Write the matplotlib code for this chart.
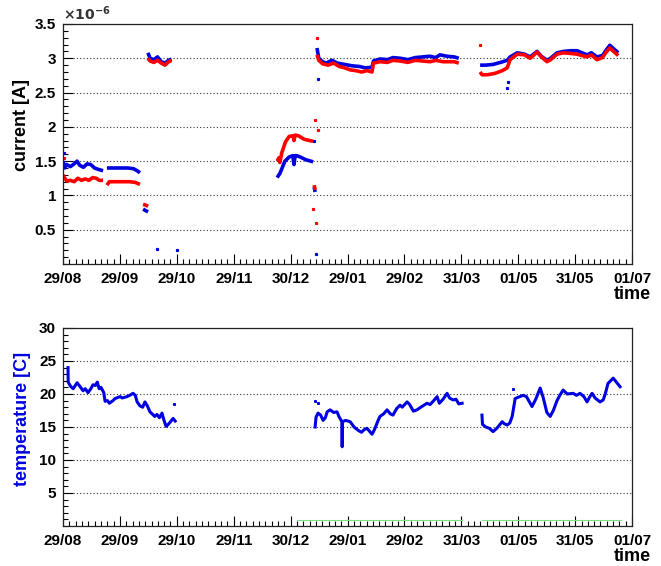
import matplotlib
matplotlib.use("Agg")
import matplotlib.pyplot as plt
import numpy as np
from matplotlib.ticker import FixedLocator, MultipleLocator, NullFormatter

plt.rcParams['font.family'] = ['Liberation Sans', 'DejaVu Sans']
plt.rcParams['font.weight'] = 'bold'

nan = np.nan

# days since 29/08, current in units of 1e-6 A
blue_day = [0, 1, 2, 4, 6, 7.6, 9, 11, 13, 15, 17, 19, 21.6, nan,
            23.7, 27, 31, 35, 38, 40, 41.5, nan,
            43.2, 44.5, 45.9, nan,
            45.8, 47, 49, 51, 53, 55, 57, 58.5, nan,
            115.5, 117, 119.7, 122, 124, 124.6, 125.2, 126, 128, 131, 134.9, nan,
            135.5, 136, nan,
            137, 138, 140, 142, 145, 148, 152, 156, 160, 163, 166.7, 167.5, 171, 175,
            178, 182, 186, 190, 194, 198, 201, 203.4, 207, 211, 213.5, nan,
            225, 228, 232, 236, 239.6, 241.2, 245, 249, 252, 255.7, 258, 261.1, 263,
            266.5, 270, 274, 277.3, 280, 282.7, 285, 288, 291, 293, 295, 297, 299.5]
blue_cur = [1.50, 1.40, 1.45, 1.42, 1.46, 1.50, 1.44, 1.41, 1.46, 1.45, 1.40, 1.38, 1.36, nan,
            1.40, 1.40, 1.40, 1.40, 1.39, 1.36, 1.33, nan,
            0.80, 0.78, 0.76, nan,
            3.08, 3.00, 2.98, 3.02, 2.95, 2.93, 2.97, 2.99, nan,
            1.26, 1.32, 1.50, 1.56, 1.58, 1.45, 1.58, 1.58, 1.56, 1.52, 1.49, nan,
            1.12, 1.05, nan,
            3.15, 3.00, 2.95, 2.93, 2.97, 2.93, 2.91, 2.89, 2.88, 2.86, 2.87, 2.96, 2.99, 2.98,
            3.01, 3.00, 2.98, 3.01, 3.02, 3.03, 3.01, 3.05, 3.03, 3.02, 3.00, nan,
            2.90, 2.90, 2.91, 2.94, 2.97, 3.02, 3.08, 3.06, 3.02, 3.10, 3.03, 2.97, 3.00,
            3.08, 3.10, 3.11, 3.11, 3.08, 3.05, 3.08, 3.02, 3.04, 3.12, 3.19, 3.14, 3.08]

red_day = [0, 1, 2, 4, 6, 8, 10, 12, 14, 16, 18, 19.5, 21.6, nan,
           23.7, 25, 28, 32, 36, 39, 41.5, nan,
           43.2, 44.5, 45.9, nan,
           45.8, 47, 49, 51, 53, 55, 57, 58.5, nan,
           115.5, 116.5, 117, 118, 120, 122, 124.1, 124.6, 125.2, 127, 130, 133, 134.9, nan,
           135.5, 136, nan,
           137, 138, 140, 143, 146, 149, 152, 155, 158, 161, 164, 166.7, 167.5, 171, 175,
           178, 182, 186, 190, 194, 198, 201, 205, 211, 213.5, nan,
           225, 226, 229, 233, 237, 239.6, 241.2, 245, 249, 252, 255.7, 258, 261.1, 263,
           266.5, 270, 274, 277.3, 280, 282.7, 285, 288, 291, 293, 295, 297, 299.5]
red_cur = [1.30, 1.25, 1.21, 1.22, 1.20, 1.25, 1.22, 1.24, 1.22, 1.26, 1.25, 1.22, 1.22, nan,
           1.15, 1.20, 1.20, 1.20, 1.20, 1.19, 1.16, nan,
           0.87, 0.86, 0.84, nan,
           3.00, 2.96, 2.94, 2.97, 2.93, 2.90, 2.95, 2.97, nan,
           1.50, 1.55, 1.48, 1.62, 1.78, 1.86, 1.87, 1.80, 1.88, 1.87, 1.82, 1.80, 1.79, nan,
           1.15, 1.08, nan,
           3.05, 2.97, 2.92, 2.90, 2.93, 2.88, 2.86, 2.83, 2.82, 2.80, 2.82, 2.80, 2.93, 2.95, 2.94,
           2.97, 2.96, 2.94, 2.97, 2.96, 2.95, 2.97, 2.95, 2.95, 2.93, nan,
           2.80, 2.76, 2.76, 2.78, 2.82, 2.86, 2.98, 3.06, 3.05, 3.00, 3.09, 3.02, 2.95, 2.98,
           3.06, 3.08, 3.07, 3.06, 3.04, 3.02, 3.05, 2.98, 3.01, 3.09, 3.15, 3.10, 3.04]

# stray readings
blue_out_day = [0.5, 50.5, 61.5, 135.2, 136.3, 137.4, 239.6, 239.8]
blue_out_cur = [1.62, 0.22, 0.20, 1.80, 0.15, 2.70, 2.57, 2.65]
red_out_day = [0.3, 135.0, 135.8, 136.6, 137.2, 137.6, 224.8]
red_out_cur = [1.55, 0.80, 2.10, 0.60, 3.30, 1.95, 3.20]

temp_day = [2.7, 2.8, 4, 5.5, 7.6, 9, 10.8, 12, 13.5, 15, 16.2, 17.5, 18.5, 19.5, 20.5, 22,
            22.7, 24, 25, 27, 28, 30.8, 32, 34.5, 36, 37.8, 39, 40, 41.5, 43, 44.2, 45.5,
            46.9, 48, 49.5, 50.7, 52, 53.4, 54.5, 55.6, 56.5, 58, 59.4, 60.5, nan,
            136, 136.5, 137.6, 139, 140.3, 141.5, 142.5, 144.1, 146, 147.8, 149, 150.5,
            150.6, 150.7, 152.5, 154.9, 157, 159.2, 161, 162.5, 164, 165.5, 166.7, 168, 170,
            171, 173, 174.8, 176.5, 178, 180, 181.8, 183, 185.6, 187, 189, 191, 193, 196.4,
            198, 200, 201.8, 203, 205, 207.2, 208.5, 210.4, 212, 213.5, 215.3, nan,
            226, 226.3, 228, 230, 232, 234, 236.9, 238, 239.6, 241, 242.3, 243.9, 245.5,
            248.2, 250, 252, 253, 255, 257.4, 259, 261, 262.8, 264.5, 266.5, 268, 269.8,
            272, 275.2, 277, 278.9, 281, 282.7, 284, 285.4, 287, 289.7, 291.4, 292.5, 294,
            296.8, 298.5, 300.5]
temp_val = [24.0, 21.8, 21.2, 20.8, 21.7, 21.2, 20.5, 20.8, 20.2, 20.8, 21.4, 21.3, 21.8, 20.8,
            21.0, 20.2, 18.9, 19.0, 18.6, 19.0, 19.3, 19.6, 19.4, 19.6, 19.8, 20.1, 19.8, 18.8,
            18.2, 18.0, 18.8, 18.2, 17.3, 17.0, 16.6, 16.9, 16.4, 17.1, 16.0, 15.1, 15.3, 15.8,
            16.3, 15.9, nan,
            15.0, 16.5, 17.1, 16.8, 16.0, 16.4, 17.3, 17.6, 17.2, 17.3, 16.5, 15.8,
            12.0, 15.8, 16.0, 15.8, 15.0, 14.5, 14.2, 14.6, 14.8, 14.3, 13.9, 14.6, 16.0,
            16.6, 17.0, 17.6, 17.0, 16.8, 17.8, 18.3, 18.0, 18.8, 18.4, 17.4, 17.6, 18.0, 18.6,
            18.4, 19.0, 19.6, 18.6, 19.2, 20.1, 19.4, 19.1, 19.2, 18.5, 18.6, nan,
            16.8, 15.4, 15.0, 14.8, 14.3, 14.8, 15.8, 15.5, 15.3, 15.6, 16.6, 19.3, 19.5,
            19.8, 19.6, 18.6, 18.1, 19.2, 20.9, 19.5, 17.2, 16.6, 17.5, 19.0, 19.8, 20.6,
            20.0, 20.1, 19.8, 20.1, 19.6, 18.8, 19.5, 20.1, 19.4, 18.8, 19.1, 20.0, 21.6,
            22.4, 21.8, 21.1]
temp_out_day = [59.8, 136.2, 137.8, 242.8]
temp_out_val = [18.5, 19.0, 18.6, 20.8]

# the faint green channel near zero
green_day = [126, 215.3, nan, 226, 301]
green_val = [0.9, 0.9, nan, 0.9, 0.9]

tick_labels = ["29/08", "29/09", "29/10", "29/11", "30/12", "29/01",
               "29/02", "31/03", "01/05", "31/05", "01/07"]
x_end = 307
x_ticks = np.linspace(0, x_end, len(tick_labels))

BLUE = "#0000e0"
RED = "#ff0000"


def style_axis(ax, yticks, ylim, yminor):
    ax.set_xlim(0, x_end)
    ax.set_ylim(*ylim)
    ax.xaxis.set_major_locator(FixedLocator(x_ticks))
    ax.xaxis.set_minor_locator(MultipleLocator(x_end / 10 / 9))
    ax.set_xticklabels(tick_labels)
    ax.yaxis.set_major_locator(FixedLocator(yticks))
    ax.yaxis.set_minor_locator(MultipleLocator(yminor))
    ax.yaxis.set_minor_formatter(NullFormatter())
    ax.tick_params(which='both', direction='in', top=False, right=False, labelsize=11)
    ax.tick_params(which='major', length=7, width=0.8)
    ax.tick_params(which='minor', length=3.5, width=0.8)
    ax.tick_params(axis='x', pad=6)
    ax.tick_params(axis='y', pad=5)
    ax.yaxis.grid(True, which='major', linestyle=(0, (1, 2)), color='#333333', linewidth=0.8)
    for s in ax.spines.values():
        s.set_linewidth(0.9)
        s.set_color('#222222')


fig = plt.figure(figsize=(6.61, 5.66), dpi=100)
ax1 = fig.add_axes([0.0953, 0.5336, 0.861, 0.424])
ax2 = fig.add_axes([0.0953, 0.0707, 0.861, 0.3498])

ax1.plot(blue_day, blue_cur, color=BLUE, linewidth=2.6, solid_capstyle='butt')
ax1.plot(red_day, red_cur, color=RED, linewidth=2.6, solid_capstyle='butt')
ax1.plot(blue_out_day, blue_out_cur, ls='none', marker='s', ms=1.3, color=BLUE)
ax1.plot(red_out_day, red_out_cur, ls='none', marker='s', ms=1.3, color=RED)
style_axis(ax1, [0.5, 1, 1.5, 2, 2.5, 3, 3.5], (0, 3.5), 0.1)
ax1.set_yticklabels(["0.5", "1", "1.5", "2", "2.5", "3", "3.5"])

ax2.plot(green_day, green_val, color='#7ee07e', linewidth=0.8)
ax2.plot(temp_day, temp_val, color=BLUE, linewidth=2.2)
ax2.plot(temp_out_day, temp_out_val, ls='none', marker='s', ms=1.2, color=BLUE)
style_axis(ax2, [5, 10, 15, 20, 25, 30], (0, 30), 1)

fig.text(0.0953, 0.976, r"$\times10^{-6}$", fontsize=10, fontweight='normal',
         ha='left', va='center', color='#333333')
fig.text(0.032, 0.779, "current [A]", rotation=90, fontsize=13, fontweight='bold',
         ha='center', va='center', color='black')
fig.text(0.034, 0.26, "temperature [C]", rotation=90, fontsize=13, fontweight='bold',
         ha='center', va='center', color=BLUE)
fig.text(0.985, 0.480, "time", fontsize=13, fontweight='bold', ha='right', va='center')
fig.text(0.985, 0.016, "time", fontsize=13, fontweight='bold', ha='right', va='center')

fig.savefig("out.png", dpi=100)
